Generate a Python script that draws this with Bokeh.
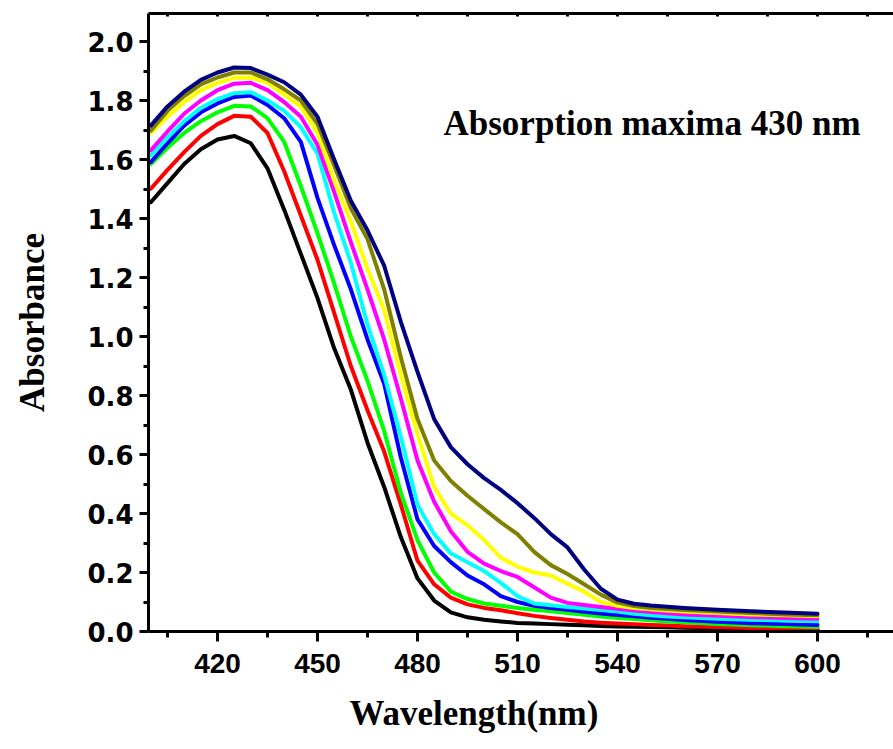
from bokeh.plotting import figure
from bokeh.models import FixedTicker, LinearAxis, Label, Title, PrintfTickFormatter, Range1d, ColumnDataSource
from bokeh.embed import file_html
from bokeh.resources import INLINE

# ---- data ----
wavelength = [400, 405, 410, 415, 420, 425, 430, 435, 440, 445, 450, 455, 460, 465, 470,
              475, 480, 485, 490, 495, 500, 505, 510, 515, 520, 525, 530, 535, 540, 545,
              550, 555, 560, 570, 580, 590, 600]

black = [1.455, 1.52, 1.585, 1.635, 1.668, 1.68, 1.655, 1.57, 1.43, 1.28, 1.13, 0.96, 0.82, 0.64, 0.49,
         0.32, 0.18, 0.105, 0.065, 0.048, 0.040, 0.034, 0.029, 0.027, 0.025, 0.023, 0.021, 0.019, 0.017, 0.016,
         0.015, 0.014, 0.013, 0.011, 0.010, 0.009, 0.008]
red = [1.501, 1.565, 1.625, 1.68, 1.72, 1.748, 1.745, 1.69, 1.56, 1.41, 1.26, 1.08, 0.90, 0.75, 0.61,
       0.43, 0.24, 0.16, 0.115, 0.092, 0.080, 0.072, 0.062, 0.053, 0.046, 0.040, 0.034, 0.030, 0.027, 0.025,
       0.022, 0.020, 0.018, 0.015, 0.012, 0.011, 0.010]
green = [1.585, 1.64, 1.69, 1.73, 1.76, 1.782, 1.78, 1.74, 1.66, 1.51, 1.35, 1.18, 1.00, 0.85, 0.68,
         0.47, 0.31, 0.20, 0.135, 0.11, 0.095, 0.087, 0.080, 0.074, 0.069, 0.063, 0.057, 0.051, 0.046, 0.042,
         0.038, 0.034, 0.031, 0.025, 0.021, 0.018, 0.015]
blue = [1.591, 1.655, 1.715, 1.76, 1.79, 1.812, 1.817, 1.785, 1.74, 1.66, 1.47, 1.31, 1.16, 0.99, 0.84,
        0.59, 0.38, 0.29, 0.235, 0.19, 0.16, 0.12, 0.10, 0.087, 0.080, 0.074, 0.067, 0.061, 0.056, 0.052,
        0.047, 0.043, 0.039, 0.033, 0.028, 0.025, 0.022]
cyan = [1.614, 1.675, 1.73, 1.775, 1.805, 1.825, 1.828, 1.80, 1.765, 1.71, 1.62, 1.42, 1.25, 1.04, 0.87,
        0.66, 0.43, 0.33, 0.265, 0.235, 0.205, 0.165, 0.12, 0.095, 0.089, 0.083, 0.078, 0.073, 0.068, 0.060,
        0.055, 0.051, 0.048, 0.043, 0.040, 0.037, 0.035]
magenta = [1.631, 1.695, 1.755, 1.80, 1.835, 1.857, 1.86, 1.835, 1.795, 1.745, 1.65, 1.49, 1.32, 1.16, 0.99,
           0.79, 0.58, 0.44, 0.34, 0.27, 0.23, 0.205, 0.185, 0.15, 0.115, 0.097, 0.09, 0.083, 0.077, 0.071,
           0.066, 0.062, 0.058, 0.053, 0.049, 0.046, 0.043]
yellow = [1.69, 1.745, 1.795, 1.835, 1.86, 1.877, 1.878, 1.86, 1.82, 1.78, 1.69, 1.53, 1.39, 1.23, 1.09,
          0.87, 0.67, 0.49, 0.40, 0.36, 0.31, 0.25, 0.22, 0.20, 0.19, 0.162, 0.135, 0.10, 0.087, 0.080,
          0.075, 0.071, 0.068, 0.063, 0.058, 0.055, 0.052]
olive = [1.698, 1.765, 1.815, 1.855, 1.878, 1.895, 1.895, 1.872, 1.838, 1.80, 1.72, 1.58, 1.435, 1.33, 1.16,
         0.93, 0.72, 0.58, 0.51, 0.46, 0.415, 0.37, 0.33, 0.27, 0.225, 0.195, 0.16, 0.125, 0.098, 0.086,
         0.080, 0.076, 0.073, 0.068, 0.063, 0.058, 0.055]
navy = [1.715, 1.78, 1.83, 1.87, 1.895, 1.912, 1.91, 1.888, 1.862, 1.82, 1.745, 1.60, 1.46, 1.36, 1.24,
        1.05, 0.88, 0.72, 0.625, 0.567, 0.52, 0.48, 0.435, 0.385, 0.33, 0.285, 0.21, 0.145, 0.108, 0.094,
        0.088, 0.084, 0.080, 0.074, 0.069, 0.064, 0.060]

series = [black, red, green, blue, cyan, magenta, yellow, olive, navy]
colors = ["#000000", "#FF0000", "#00FF00", "#0000FF", "#00FFFF", "#FF00FF", "#FFFF00", "#808000", "#000080"]

x_major = [420, 450, 480, 510, 540, 570, 600]
x_minor = [405, 435, 465, 495, 525, 555, 585, 615]
top_ticks = [405, 420, 435, 450, 465, 480, 495, 510, 525, 540, 555, 570, 585, 600, 615]
y_major = [0.0, 0.2, 0.4, 0.6, 0.8, 1.0, 1.2, 1.4, 1.6, 1.8, 2.0]
y_minor = [0.1, 0.3, 0.5, 0.7, 0.9, 1.1, 1.3, 1.5, 1.7, 1.9]

title_text = "Absorption maxima 430 nm"
x_title = "Wavelength(nm)"
y_title = "Absorbance"

# ---- figure ----
p = figure(width=893, height=749,
           x_range=Range1d(399.3, 622.8), y_range=Range1d(0, 2.095),
           output_backend="svg", toolbar_location=None,
           min_border_left=148, min_border_right=0, min_border_top=13, min_border_bottom=118)
p.background_fill_color = "white"
p.border_fill_color = "white"
p.outline_line_color = None
p.xgrid.visible = False
p.ygrid.visible = False

for ys, c in zip(series, colors):
    src = ColumnDataSource(dict(x=wavelength, y=ys))
    p.line("x", "y", source=src, line_color=c, line_width=4, line_join="round", line_cap="round")

xa = p.xaxis[0]
xa.ticker = FixedTicker(ticks=x_major, minor_ticks=x_minor)
xa.axis_line_width = 3
xa.major_tick_line_width = 3
xa.minor_tick_line_width = 3
xa.major_tick_out = 10
xa.major_tick_in = 0
xa.minor_tick_out = 6
xa.minor_tick_in = 0
xa.major_label_standoff = 12
xa.major_label_text_font = "Liberation Sans"
xa.major_label_text_font_style = "bold"
xa.major_label_text_font_size = "28px"
xa.major_label_text_color = "black"

ya = p.yaxis[0]
ya.ticker = FixedTicker(ticks=y_major, minor_ticks=y_minor)
ya.formatter = PrintfTickFormatter(format="%.1f")
ya.axis_line_width = 3
ya.major_tick_line_width = 3
ya.minor_tick_line_width = 3
ya.major_tick_out = 9
ya.major_tick_in = 0
ya.minor_tick_out = 5
ya.minor_tick_in = 0
ya.major_label_standoff = 6
ya.major_label_text_font = "DejaVu Sans"
ya.major_label_text_font_style = "bold"
ya.major_label_text_font_size = "26px"
ya.major_label_text_color = "black"
ya.axis_label = y_title
ya.axis_label_text_font = "Liberation Serif"
ya.axis_label_text_font_style = "bold"
ya.axis_label_text_font_size = "35px"
ya.axis_label_text_color = "black"
ya.axis_label_standoff = 32

# top frame edge: ticks only, no labels
top = LinearAxis(ticker=FixedTicker(ticks=top_ticks, minor_ticks=[]),
                 axis_line_width=3, major_tick_line_width=3,
                 major_tick_in=3, major_tick_out=0, minor_tick_in=0, minor_tick_out=0,
                 major_label_text_color=None, major_label_text_font_size="1px",
                 major_label_standoff=0)
p.add_layout(top, "above")

# x-axis title in the panel below the axis, placed like the reference
p.add_layout(Title(text=x_title, text_font="Liberation Serif", text_font_style="bold",
                   text_font_size="35px", text_color="black", align="left",
                   offset=201, standoff=33), "below")

p.add_layout(Label(x=487.8, y=1.722, text=title_text, text_font="Liberation Serif",
                   text_font_style="bold", text_font_size="35px", text_color="black",
                   text_baseline="alphabetic", text_align="left"))

open("out.html", "w").write(file_html(p, INLINE))
